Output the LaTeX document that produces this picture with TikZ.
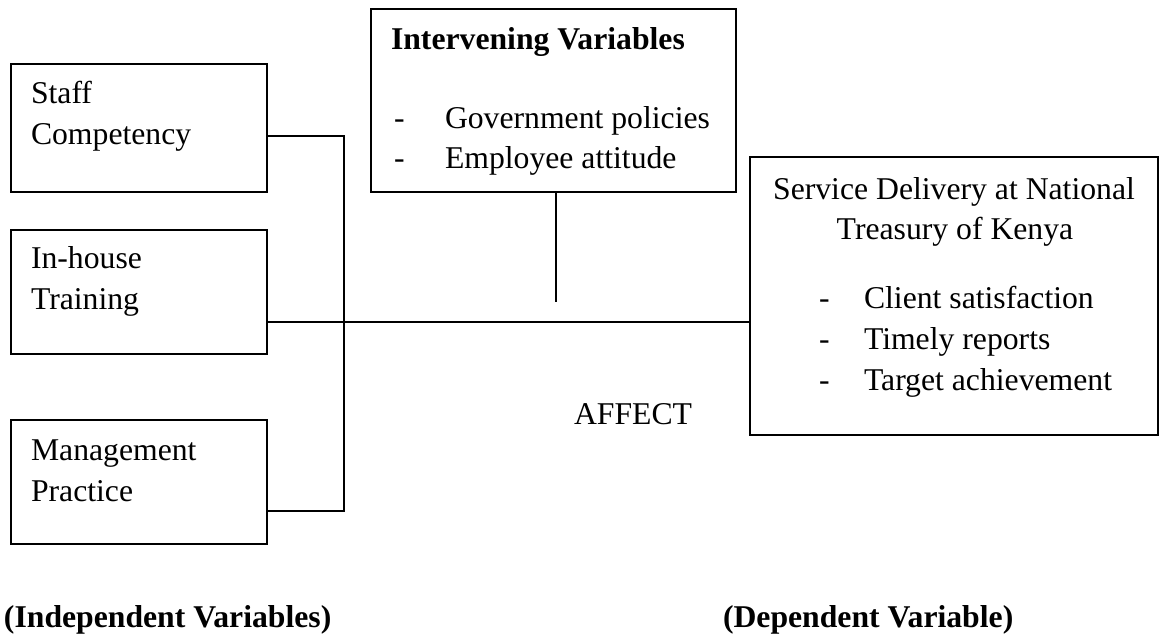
\documentclass[tikz,border=0pt]{standalone}
\usepackage{fontspec}
\setmainfont{Liberation Serif}
\begin{document}
\begin{tikzpicture}[x=1pt,y=-1pt,
  box/.style={draw, line width=2pt, inner sep=0pt, outer sep=0pt, anchor=north west},
  txt/.style={inner sep=0pt, outer sep=0pt, anchor=base west, font=\fontsize{31.7}{41}\selectfont},
  ctxt/.style={txt, anchor=base},
  btxt/.style={txt, font=\fontsize{31.7}{41}\selectfont\bfseries},
  link/.style={line width=1.7pt}]
\useasboundingbox (0,0) rectangle (1160,635);
% boxes
\node[box, minimum width=256pt, minimum height=128pt] (staff) at (11,64) {};
\node[box, minimum width=256pt, minimum height=124pt] (train) at (11,230) {};
\node[box, minimum width=256pt, minimum height=124pt] (mgmt) at (11,420) {};
\node[box, minimum width=365pt, minimum height=183pt] (inter) at (371,9) {};
\node[box, minimum width=408pt, minimum height=278pt] (serv) at (750,157) {};
% texts
\node[txt] (s1) at (31,103.5) {Staff};
\node[txt] (s2) at (31,144.5) {Competency};
\node[txt] (h1) at (31,268.5) {In-house};
\node[txt] (h2) at (31,309.5) {Training};
\node[txt] (m1) at (31,460.5) {Management};
\node[txt] (m2) at (31,501.5) {Practice};
\node[btxt] (i0) at (391,49) {Intervening Variables};
\node[txt] (i1d) at (394,128.5) {-};
\node[txt] (i1) at (445,128.5) {Government policies};
\node[txt] (i2d) at (394,168.5) {-};
\node[txt] (i2) at (445,168.5) {Employee attitude};
\node[ctxt] (d1) at (954,199.5) {Service Delivery at National};
\node[ctxt] (d2) at (955,239.5) {Treasury of Kenya};
\node[txt] (b1d) at (819,308) {-};
\node[txt] (b1) at (864,308) {Client satisfaction};
\node[txt] (b2d) at (819,349) {-};
\node[txt] (b2) at (864,349) {Timely reports};
\node[txt] (b3d) at (819,390) {-};
\node[txt] (b3) at (864,390) {Target achievement};
\node[txt] (aff) at (574,424) {AFFECT};
\node[btxt] (ind) at (4,627) {(Independent Variables)};
\node[btxt] (dep) at (723,627) {(Dependent Variable)};
% connectors
\coordinate (j1) at (344,136);
\coordinate (j2) at (344,511);
\coordinate (j3) at (0,322);
\coordinate (j4) at (556,302);
\draw[link] (staff.east |- j1) -- (j1) -- (j2) -- (mgmt.east |- j2);
\draw[link] (train.east |- j3) -- (serv.west |- j3);
\draw[link] (inter.south -| j4) -- (j4);
\end{tikzpicture}
\end{document}
